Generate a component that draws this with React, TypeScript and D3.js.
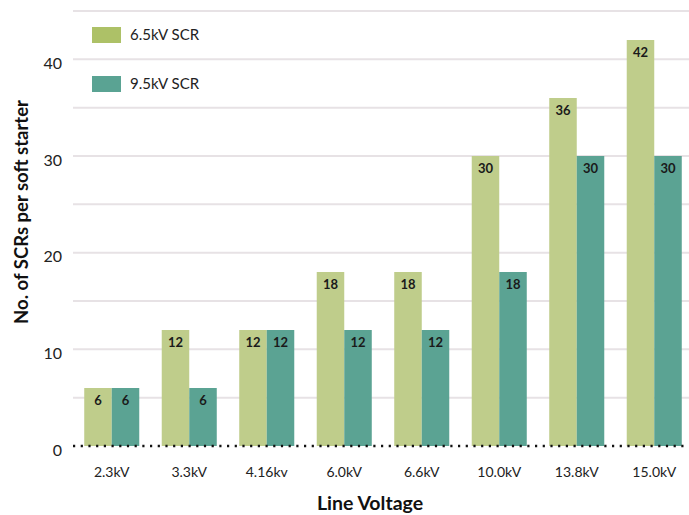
import * as d3 from "d3";

const categories = ["2.3kV", "3.3kV", "4.16kv", "6.0kV", "6.6kV", "10.0kV", "13.8kV", "15.0kV"];
const series = ["6.5kV SCR", "9.5kV SCR"];
const scr65 = [6, 12, 12, 18, 18, 30, 36, 42];
const scr95 = [6, 6, 12, 12, 12, 18, 30, 30];
const yTicks = [0, 10, 20, 30, 40];
const gridValues = [5, 10, 15, 20, 25, 30, 35, 40, 45];

const barColors = ["#bfcd8b", "#5ba393"];
const legendColors = ["#adc167", "#5aa393"];

const W = 689;
const H = 515;
const FONT = "Lato, 'Noto Sans', sans-serif";

export default function App() {
  const x = d3
    .scaleBand<string>()
    .domain(categories)
    .range([73, 693])
    .paddingInner(0.29)
    .paddingOuter(0.145);
  const inner = d3.scaleBand<string>().domain(series).range([0, x.bandwidth()]);
  const y = d3.scaleLinear().domain([0, 45]).range([446, 11]);
  const values = [scr65, scr95];

  return (
    <div style={{ position: "fixed", left: 0, top: 0 }}>
      <svg width={W} height={H} style={{ fontFamily: FONT, display: "block" }}>
        <rect width={W} height={H} fill="#fff" />
        {/* gridlines */}
        {gridValues.map((v) => (
          <line key={v} x1={73} x2={W} y1={y(v)} y2={y(v)} stroke="#e7e2e5" strokeWidth={2} />
        ))}
        {/* bars */}
        {categories.map((c, i) => (
          <g key={c} transform={`translate(${x(c)},0)`}>
            {series.map((s, j) => {
              const v = values[j][i];
              const bx = inner(s)!;
              return (
                <g key={s}>
                  <rect x={bx} y={y(v)} width={inner.bandwidth()} height={y(0) - y(v)} fill={barColors[j]} />
                  <text
                    x={bx + inner.bandwidth() / 2}
                    y={y(v) + 12}
                    dy="0.35em"
                    textAnchor="middle"
                    fontSize={13}
                    fontWeight="bold"
                    fill="#1a1a1a"
                  >
                    {v}
                  </text>
                </g>
              );
            })}
          </g>
        ))}
        {/* zero line */}
        <line x1={73} x2={W} y1={y(0)} y2={y(0)} stroke="#111" strokeWidth={2.5} strokeDasharray="2.2 5.5" />
        {/* y tick labels */}
        {yTicks.map((t) => (
          <text key={t} x={62} y={y(t) + 4} dy="0.35em" textAnchor="end" fontSize={16} fill="#222">
            {t}
          </text>
        ))}
        {/* x tick labels */}
        {categories.map((c) => (
          <text key={c} x={x(c)! + x.bandwidth() / 2} y={472} dy="0.35em" textAnchor="middle" fontSize={14} fill="#222">
            {c}
          </text>
        ))}
        {/* axis titles */}
        <text x={370} y={503} dy="0.35em" textAnchor="middle" fontSize={19.5} fontWeight="bold" fill="#111">
          Line Voltage
        </text>
        <text
          transform={`translate(22,212) rotate(-90)`}
          dy="0.35em"
          textAnchor="middle"
          fontSize={18.5}
          fontWeight="bold"
          fill="#111"
        >
          No. of SCRs per soft starter
        </text>
        {/* legend */}
        {series.map((s, j) => (
          <g key={s} transform={`translate(92,${27 + j * 49})`}>
            <rect width={29} height={16} fill={legendColors[j]} />
            <text x={38} y={8} dy="0.35em" fontSize={15} fill="#222">
              {s}
            </text>
          </g>
        ))}
      </svg>
    </div>
  );
}
